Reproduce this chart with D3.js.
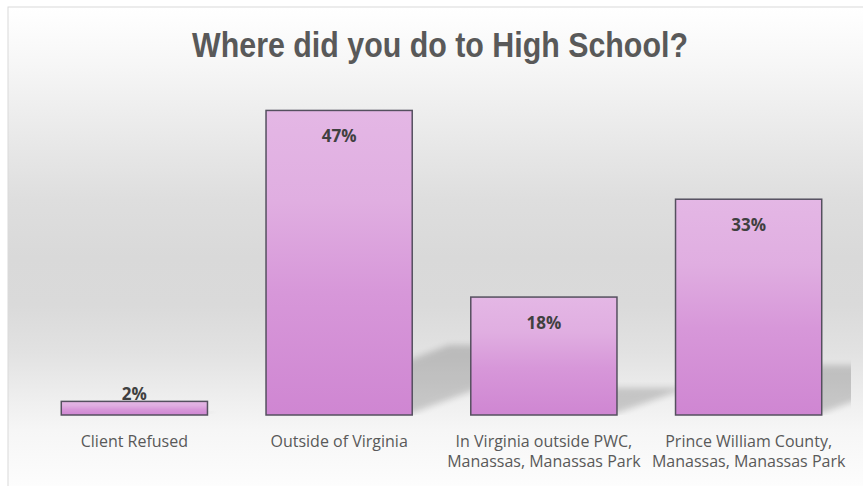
<!DOCTYPE html>
<html>
<head>
<meta charset="utf-8">
<script src="https://cdn.jsdelivr.net/npm/d3@7"></script>
<style>
  html, body { margin: 0; padding: 0; background: #ffffff; }
  svg { display: block; }
</style>
</head>
<body>
<svg id="chart" width="863" height="486"></svg>
<script>
// ---- data ----
const title = "Where did you do to High School?";
const categories = [
  "Client Refused",
  "Outside of Virginia",
  "In Virginia outside PWC,\nManassas, Manassas Park",
  "Prince William County,\nManassas, Manassas Park"
];
const values = [0.021, 0.47, 0.182, 0.333];

// ---- layout ----
const W = 863, H = 486;
const frame = { x: 8, y: 7 };
const plot = { left: 32, right: 851, bottom: 415, top: 91 };

const svg = d3.select("#chart");
const defs = svg.append("defs");

// background gradient
const bg = defs.append("linearGradient").attr("id", "bgGrad")
  .attr("x1", 0).attr("y1", 0).attr("x2", 0).attr("y2", 1);
[[0, "#ffffff"], [0.10, "#f8f8f8"], [0.19, "#f0f0f0"], [0.40, "#dedede"],
 [0.52, "#d9d9d9"], [0.62, "#dadada"], [0.72, "#e2e2e2"], [0.82, "#efefef"],
 [0.88, "#f6f6f6"], [1, "#fdfdfd"]].forEach(([o, c]) =>
  bg.append("stop").attr("offset", o).attr("stop-color", c));

// bar gradient
const bgBar = defs.append("linearGradient").attr("id", "barGrad")
  .attr("x1", 0).attr("y1", 0).attr("x2", 0).attr("y2", 1);
[[0, "#e4b7e5"], [0.3, "#e0aee1"], [0.6, "#d797d9"], [1, "#cf86d2"]].forEach(([o, c]) =>
  bgBar.append("stop").attr("offset", o).attr("stop-color", c));

// shadow blur
defs.append("filter").attr("id", "blur").attr("x", "-20%").attr("y", "-20%")
  .attr("width", "140%").attr("height", "140%")
  .append("feGaussianBlur").attr("stdDeviation", 3);

defs.append("clipPath").attr("id", "plotClip")
  .append("rect").attr("x", 0).attr("y", 0).attr("width", plot.right).attr("height", plot.bottom);

// frame / background
svg.append("rect").attr("x", frame.x).attr("y", frame.y)
  .attr("width", W - frame.x + 2).attr("height", H - frame.y + 2)
  .attr("fill", "url(#bgGrad)").attr("stroke", "#d9d9d9").attr("stroke-width", 1);

// scales
const x = d3.scaleBand().domain(categories).range([plot.left, plot.right])
  .paddingInner(0.286).paddingOuter(0.143);
const y = d3.scaleLinear().domain([0, 0.5]).range([plot.bottom, plot.top]);

// title
const t = svg.append("text")
  .attr("x", 440).attr("y", 57)
  .attr("text-anchor", "middle")
  .attr("font-family", "'Liberation Sans Narrow', 'Arial Narrow', 'Liberation Sans', Arial, sans-serif")
  .attr("font-weight", "bold")
  .attr("font-size", 36)
  .attr("fill", "#595959")
  .text(title);
const tw = t.node().getComputedTextLength();
const targetW = 496;
if (Math.abs(tw - targetW) > 8) {
  const s = targetW / tw;
  t.attr("transform", `translate(${440 * (1 - s)},0) scale(${s},1)`);
}

// shadows
const sh = svg.append("g").attr("clip-path", "url(#plotClip)");
sh.selectAll("polygon").data(values).join("polygon")
  .attr("points", (d, i) => {
    const x0 = x(categories[i]), x1 = x0 + x.bandwidth();
    const b = y(0), h = y(0) - y(d);
    const sy = h * 0.23, dx = h * 0.6;
    return [[x0 + 4, b - 2], [x1, b - 2], [x1 + dx, b - sy], [x0 + dx, b - sy]].map(p => p.join(",")).join(" ");
  })
  .attr("fill", "#000").attr("opacity", 0.17)
  .attr("filter", "url(#blur)");

// bars
svg.append("g").selectAll("rect").data(values).join("rect")
  .attr("x", (d, i) => x(categories[i]))
  .attr("y", d => y(d))
  .attr("width", x.bandwidth())
  .attr("height", d => y(0) - y(d))
  .attr("fill", "url(#barGrad)")
  .attr("stroke", "#55505f").attr("stroke-width", 1.5);

// value labels
svg.append("g").selectAll("text").data(values).join("text")
  .attr("x", (d, i) => x(categories[i]) + x.bandwidth() / 2)
  .attr("y", d => (y(0) - y(d) > 40 ? y(d) + 32 : y(d) - 1))
  .attr("text-anchor", "middle")
  .attr("font-family", "'Open Sans', 'Noto Sans', sans-serif")
  .attr("font-weight", "bold")
  .attr("font-size", 17)
  .attr("fill", "#404040")
  .text(d => Math.round(d * 100) + "%");

// category axis
const ax = svg.append("g").attr("transform", `translate(0,${plot.bottom})`)
  .call(d3.axisBottom(x).tickSize(0).tickPadding(0));
ax.select(".domain").remove();
ax.selectAll(".tick text").each(function (d) {
  const el = d3.select(this);
  el.text(null).attr("y", 0).attr("dy", null)
    .attr("font-family", "'Open Sans', 'Noto Sans', sans-serif")
    .attr("font-size", 16)
    .attr("fill", "#595959");
  d.split("\n").forEach((line, k) => {
    el.append("tspan").attr("x", 0).attr("y", 32 + k * 20).text(line);
  });
});
</script>
</body>
</html>
